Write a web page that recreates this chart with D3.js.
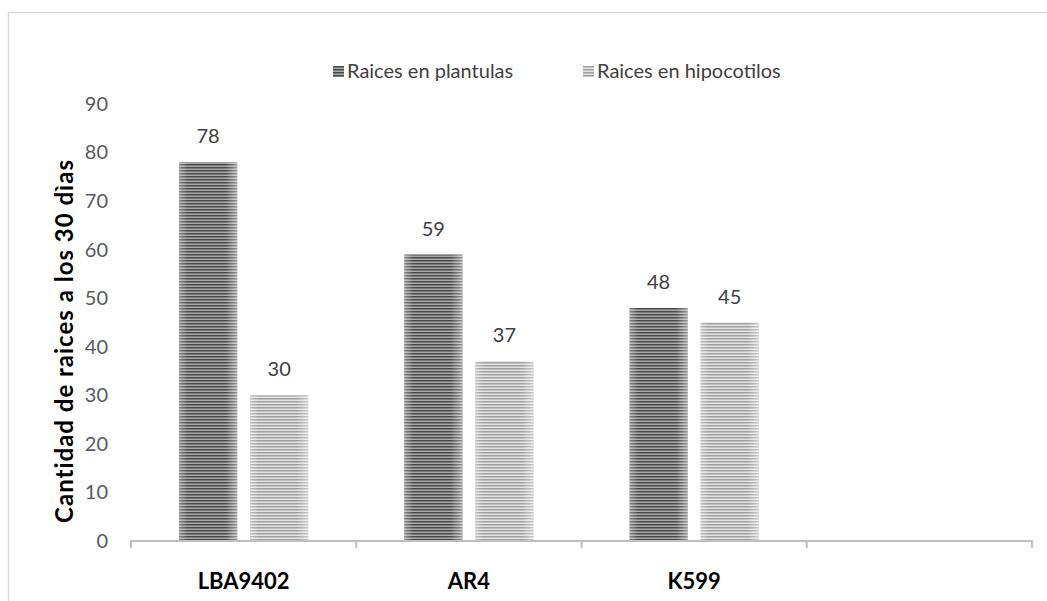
<!DOCTYPE html>
<html>
<head>
<meta charset="utf-8">
<script src="https://cdn.jsdelivr.net/npm/d3@7/dist/d3.min.js"></script>
<style>
  body { margin: 0; background: #fff; }
  text { font-family: Lato, "Noto Sans", sans-serif; }
</style>
</head>
<body>
<div id="chart"></div>
<script>
  // data
  let categories = ["LBA9402", "AR4", "K599", ""];
  let seriesNames = ["Raices en plantulas", "Raices en hipocotilos"];
  let plantulas = [78, 59, 48, null];
  let hipocotilos = [30, 37, 45, null];
  let yTicks = [0, 10, 20, 30, 40, 50, 60, 70, 80, 90];

  let W = 1047, H = 601;
  let margin = { top: 104, right: 15, bottom: 60, left: 131 };
  let width = 1032 - margin.left,
    height = 541 - margin.top;

  let svg = d3.select("#chart").append("svg")
    .attr("width", W).attr("height", H);

  // patterns (horizontal stripes)
  let defs = svg.append("defs");
  function stripes(id, dark, light) {
    let p = defs.append("pattern")
      .attr("id", id)
      .attr("patternUnits", "userSpaceOnUse")
      .attr("width", 6).attr("height", 3);
    p.append("rect").attr("width", 6).attr("height", 3).attr("fill", light);
    p.append("rect").attr("width", 6).attr("height", 1.5).attr("fill", dark);
  }
  stripes("stripeDark", "#4a4a4a", "#a8a8a8");
  stripes("stripeLight", "#a0a0a0", "#e2e2e2");

  let glow = defs.append("linearGradient").attr("id", "edgeGlow")
    .attr("x1", "0%").attr("x2", "100%");
  glow.append("stop").attr("offset", "0%").attr("stop-color", "#fff").attr("stop-opacity", 0.35);
  glow.append("stop").attr("offset", "15%").attr("stop-color", "#fff").attr("stop-opacity", 0);
  glow.append("stop").attr("offset", "80%").attr("stop-color", "#fff").attr("stop-opacity", 0);
  glow.append("stop").attr("offset", "100%").attr("stop-color", "#fff").attr("stop-opacity", 0.45);

  // outer frame (only top and left show)
  svg.append("path")
    .attr("d", "M8.5," + H + "V12.5H" + W)
    .attr("fill", "none").attr("stroke", "#d9d9d9").attr("stroke-width", 1.5);

  let vis = svg.append("g")
    .attr("transform", "translate(" + margin.left + "," + margin.top + ")");

  let x = d3.scaleBand().domain(categories).range([0, width])
    .paddingInner(0).paddingOuter(0);
  let x1 = d3.scaleBand().domain(seriesNames).range([48, x.bandwidth() - 48])
    .paddingInner(0.18);
  let y = d3.scaleLinear().domain([0, 90]).range([height, 0]);

  // y tick labels (no axis line)
  let yAxis = d3.axisLeft(y).tickValues(yTicks).tickSize(0).tickPadding(23);
  let yAxisGroup = vis.append("g").call(yAxis);
  yAxisGroup.select(".domain").remove();
  yAxisGroup.selectAll("text")
    .attr("fill", "#595959").style("font-size", "20px")
    .style("font-family", "Lato, 'Noto Sans', sans-serif");

  let series = [
    { name: seriesNames[0], values: plantulas, fill: "url(#stripeDark)" },
    { name: seriesNames[1], values: hipocotilos, fill: "url(#stripeLight)" },
  ];

  series.forEach(function (s) {
    let pts = categories.map((c, i) => ({ cat: c, v: s.values[i] }))
      .filter((d) => d.v !== null);
    let g = vis.append("g");
    g.selectAll("rect.bar").data(pts).enter().append("rect")
      .attr("class", "bar")
      .attr("x", (d) => x(d.cat) + x1(s.name))
      .attr("y", (d) => y(d.v))
      .attr("width", x1.bandwidth())
      .attr("height", (d) => y(0) - y(d.v))
      .attr("fill", s.fill);
    g.selectAll("rect.glow").data(pts).enter().append("rect")
      .attr("class", "glow")
      .attr("x", (d) => x(d.cat) + x1(s.name))
      .attr("y", (d) => y(d.v))
      .attr("width", x1.bandwidth())
      .attr("height", (d) => y(0) - y(d.v))
      .attr("fill", "url(#edgeGlow)");
    g.selectAll("text").data(pts).enter().append("text")
      .attr("x", (d) => x(d.cat) + x1(s.name) + x1.bandwidth() / 2)
      .attr("y", (d) => y(d.v) - 19)
      .attr("text-anchor", "middle")
      .attr("fill", "#404040")
      .style("font-size", "20px")
      .text((d) => d.v);
  });

  // x axis
  let xAxisGroup = vis.append("g").attr("transform", "translate(0," + height + ")");
  xAxisGroup.append("line")
    .attr("x1", 0).attr("x2", width)
    .attr("stroke", "#bfbfbf").attr("stroke-width", 2);
  let tickPos = categories.map((c) => x(c)).concat([width]);
  xAxisGroup.selectAll("line.tick").data(tickPos).enter().append("line")
    .attr("class", "tick")
    .attr("x1", (d) => d).attr("x2", (d) => d)
    .attr("y1", -1).attr("y2", 7)
    .attr("stroke", "#bfbfbf").attr("stroke-width", 2);
  xAxisGroup.selectAll("text").data(categories).enter().append("text")
    .attr("x", (d) => x(d) + x.bandwidth() / 2)
    .attr("y", 48)
    .attr("text-anchor", "middle")
    .attr("fill", "#000")
    .style("font-size", "22px").style("font-weight", "bold")
    .text((d) => d);

  // y title
  svg.append("text")
    .attr("transform", "translate(73,341) rotate(-90)")
    .attr("text-anchor", "middle")
    .attr("fill", "#000")
    .style("font-size", "24px").style("font-weight", "bold")
    .style("letter-spacing", "1px")
    .text("Cantidad de raices a los 30 dìas");

  // legend
  let legend = svg.append("g");
  let legendX = [333, 583];
  series.forEach(function (s, i) {
    let lg = legend.append("g").attr("transform", "translate(" + legendX[i] + ",66)");
    lg.append("rect").attr("width", 11).attr("height", 11).attr("fill", s.fill);
    lg.append("text").attr("x", 14).attr("y", 12)
      .attr("fill", "#404040").style("font-size", "20px")
      .text(s.name);
  });
</script>
</body>
</html>
